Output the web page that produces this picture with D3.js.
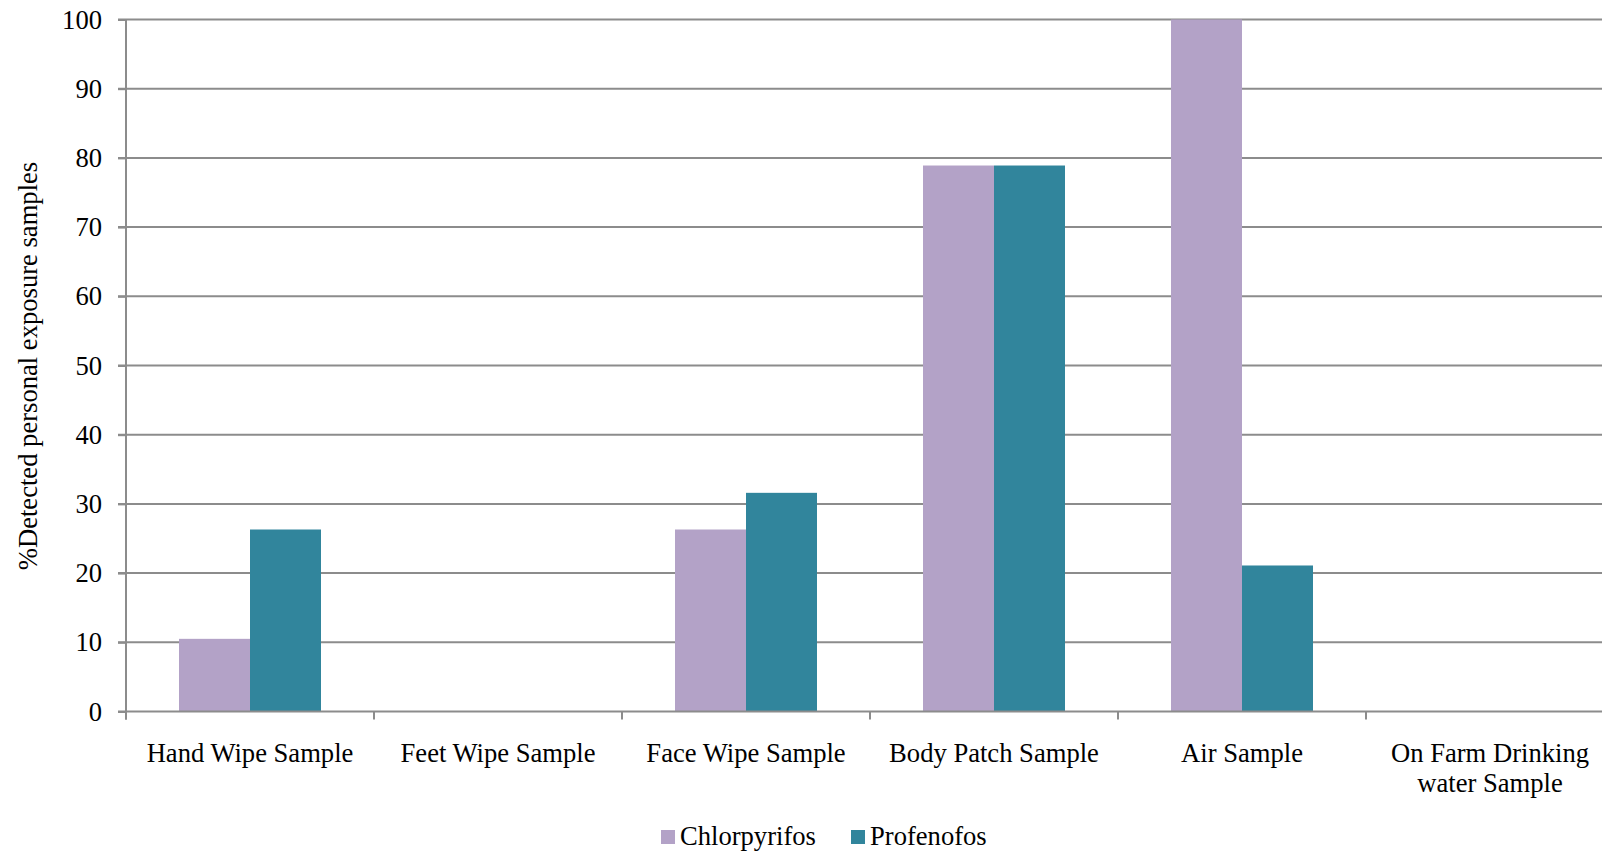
<!DOCTYPE html>
<html>
<head>
<meta charset="utf-8">
<script src="https://cdn.jsdelivr.net/npm/d3@7"></script>
<style>
  html, body { margin: 0; padding: 0; background: #fff; overflow: hidden; }
  svg { display: block; }
  text { font-family: "Liberation Serif", "Times New Roman", serif; fill: #000; }
</style>
</head>
<body>
<script>
// ---- data ----
const categories = [
  ["Hand Wipe Sample"],
  ["Feet Wipe Sample"],
  ["Face Wipe Sample"],
  ["Body Patch Sample"],
  ["Air Sample"],
  ["On Farm Drinking", "water Sample"]
];
const seriesNames = ["Chlorpyrifos", "Profenofos"];
const chlorpyrifos = [10.5, 0, 26.3, 78.9, 100, 0];
const profenofos = [26.3, 0, 31.6, 78.9, 21.1, 0];
const yTicks = [0, 10, 20, 30, 40, 50, 60, 70, 80, 90, 100];
const colors = ["#b3a2c7", "#31859c"];

// ---- layout ----
const W = 1602, H = 854;
const mLeft = 126, mRight = 1614, mTop = 19.5, mBottom = 711.5;
const fs = "26.6px";

const svg = d3.select("body").append("svg").attr("width", W).attr("height", H);

const catKeys = categories.map(c => c.join(" "));
const x0 = d3.scaleBand().domain(catKeys).range([mLeft, mRight]).paddingInner(0).paddingOuter(0);
const x1 = d3.scaleBand().domain(seriesNames).range([53, 195]);
const y = d3.scaleLinear().domain([0, 100]).range([mBottom, mTop]);

const gridColor = "#8c8c8c";

// gridlines
svg.append("g").selectAll("line").data(yTicks.filter(t => t > 0)).join("line")
  .attr("x1", mLeft - 8).attr("x2", mRight)
  .attr("y1", d => y(d)).attr("y2", d => y(d))
  .attr("stroke", gridColor).attr("stroke-width", 2);

// bars
const data = [chlorpyrifos, profenofos];
const g = svg.append("g");
seriesNames.forEach((s, si) => {
  g.selectAll(".bar" + si).data(data[si].map((v, i) => ({ v, c: catKeys[i] }))).join("rect")
    .attr("class", "bar" + si)
    .attr("x", d => x0(d.c) + x1(s))
    .attr("width", x1.bandwidth())
    .attr("y", d => y(d.v))
    .attr("height", d => y(0) - y(d.v))
    .attr("fill", colors[si]);
});

// y axis
const yAxis = d3.axisLeft(y).tickValues(yTicks).tickSize(8).tickPadding(16).tickFormat(d3.format("d"));
const ya = svg.append("g").attr("transform", `translate(${mLeft},0)`).call(yAxis);
ya.select(".domain").remove();
ya.selectAll(".tick line").attr("stroke", gridColor).attr("stroke-width", 2);
ya.selectAll(".tick text").style("font-size", fs).style("font-family", "Liberation Serif").attr("fill", "#000");
svg.append("line").attr("x1", mLeft).attr("x2", mLeft).attr("y1", mTop).attr("y2", mBottom + 8)
  .attr("stroke", gridColor).attr("stroke-width", 2);

// x axis
svg.append("line").attr("x1", mLeft - 8).attr("x2", mRight).attr("y1", mBottom).attr("y2", mBottom)
  .attr("stroke", gridColor).attr("stroke-width", 2);
const bounds = catKeys.map(c => x0(c)).concat([mRight]);
svg.append("g").selectAll("line").data(bounds).join("line")
  .attr("x1", d => d).attr("x2", d => d).attr("y1", mBottom).attr("y2", mBottom + 8)
  .attr("stroke", gridColor).attr("stroke-width", 2);

// category labels
const labels = svg.append("g").selectAll("text").data(categories).join("text")
  .attr("text-anchor", "middle")
  .attr("x", (d, i) => x0(catKeys[i]) + x0.bandwidth() / 2)
  .attr("y", 762)
  .style("font-size", fs);
labels.selectAll("tspan").data(d => d).join("tspan")
  .attr("x", function () { return this.parentNode.getAttribute("x"); })
  .attr("dy", (d, i) => i === 0 ? 0 : 30)
  .text(d => d);

// y title
svg.append("text")
  .attr("transform", "translate(37,366) rotate(-90)")
  .attr("text-anchor", "middle")
  .style("font-size", fs)
  .text("%Detected personal exposure samples");

// legend
const legendX = [661, 851];
seriesNames.forEach((s, i) => {
  svg.append("rect").attr("x", legendX[i]).attr("y", 830).attr("width", 14).attr("height", 14).attr("fill", colors[i]);
  svg.append("text").attr("x", legendX[i] + 19).attr("y", 845).style("font-size", fs).text(s);
});
</script>
</body>
</html>
